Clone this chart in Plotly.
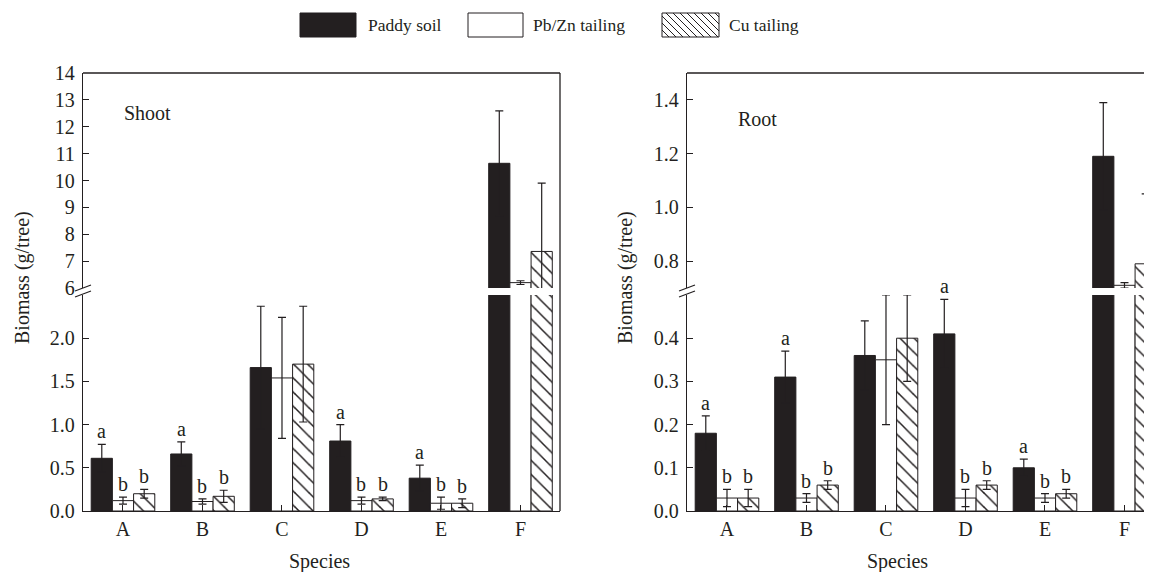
import plotly.graph_objects as go

# ---------------- data ----------------
species = ["A", "B", "C", "D", "E", "F"]
series_names = ["Paddy soil", "Pb/Zn tailing", "Cu tailing"]

shoot_paddy = [0.61, 0.66, 1.66, 0.81, 0.38, 10.64]
shoot_paddy_err = [0.16, 0.14, 0.71, 0.19, 0.15, 1.95]
shoot_pbzn = [0.12, 0.11, 1.54, 0.12, 0.09, 6.20]
shoot_pbzn_err = [0.04, 0.03, 0.70, 0.04, 0.07, 0.07]
shoot_cu = [0.20, 0.17, 1.70, 0.14, 0.09, 7.36]
shoot_cu_err = [0.05, 0.07, 0.67, 0.02, 0.05, 2.54]
shoot_letters = [["a", "b", "b"], ["a", "b", "b"], ["", "", ""],
                 ["a", "b", "b"], ["a", "b", "b"], ["", "", ""]]

root_paddy = [0.18, 0.31, 0.36, 0.41, 0.10, 1.19]
root_paddy_err = [0.04, 0.06, 0.08, 0.08, 0.02, 0.20]
root_pbzn = [0.03, 0.03, 0.35, 0.03, 0.03, 0.71]
root_pbzn_err = [0.02, 0.01, 0.15, 0.02, 0.01, 0.01]
root_cu = [0.03, 0.06, 0.40, 0.06, 0.04, 0.79]
root_cu_err = [0.02, 0.01, 0.10, 0.01, 0.01, 0.26]
root_letters = [["a", "b", "b"], ["a", "b", "b"], ["", "", ""],
                ["a", "b", "b"], ["a", "b", "b"], ["", "", ""]]

shoot_low_ticks = [0.0, 0.5, 1.0, 1.5, 2.0]
shoot_high_ticks = [6, 7, 8, 9, 10, 11, 12, 13, 14]
root_low_ticks = [0.0, 0.1, 0.2, 0.3, 0.4]
root_high_ticks = [0.8, 1.0, 1.2, 1.4]

# ---------------- styling ----------------
OFF = 8                      # default page body margin
W, H = 1152 - OFF, 572 - OFF
INK = "#231f20"
FONT = "Liberation Serif"


def px(x):
    return (x - OFF) / W


def py(y):
    return 1 - (y - OFF) / H


fig = go.Figure()

styles = [
    dict(color=INK, line=dict(color=INK, width=1)),
    dict(color="white", line=dict(color=INK, width=1)),
    dict(color="white", line=dict(color=INK, width=1),
         pattern=dict(shape="\\", size=10, solidity=0.15, fgcolor=INK, bgcolor="white")),
]

panels = [
    (("x", "y"), ("x2", "y2"),
     [(shoot_paddy, shoot_paddy_err), (shoot_pbzn, shoot_pbzn_err), (shoot_cu, shoot_cu_err)],
     shoot_letters),
    (("x3", "y3"), ("x4", "y4"),
     [(root_paddy, root_paddy_err), (root_pbzn, root_pbzn_err), (root_cu, root_cu_err)],
     root_letters),
]

for low, high, series, letters in panels:
    for axes in (low, high):
        for k, (vals, errs) in enumerate(series):
            fig.add_trace(go.Bar(
                x=species, y=vals, name=series_names[k],
                marker=styles[k], showlegend=False,
                error_y=dict(type="data", array=errs, symmetric=True,
                             color=INK, thickness=1.2, width=4),
                xaxis=axes[0], yaxis=axes[1],
            ))
    # significance letters (on the lower part)
    for i in range(len(species)):
        for k, (vals, errs) in enumerate(series):
            t = letters[i][k]
            if t:
                fig.add_annotation(
                    x=i + (k - 1) * 0.8 / 3, y=vals[i] + errs[i],
                    xref=low[0], yref=low[1], text=t, showarrow=False,
                    yanchor="bottom", font=dict(family=FONT, size=20, color=INK))

left_dom = [px(83), px(560)]
right_dom = [px(687), 1.0]
low_dom = [py(511), py(295)]
high_dom = [py(288), py(73)]

xcommon = dict(type="category", categoryorder="array", categoryarray=species,
               showline=True, linecolor=INK, linewidth=1.3, ticks="inside",
               ticklen=6, tickcolor=INK, tickwidth=1.2, showgrid=False, zeroline=False,
               tickfont=dict(family=FONT, size=20, color=INK), fixedrange=True,
               automargin=False)
ycommon = dict(showline=True, linecolor=INK, linewidth=1.3, ticks="inside",
               ticklen=6, tickcolor=INK, tickwidth=1.2, showgrid=False, zeroline=False,
               tickfont=dict(family=FONT, size=20, color=INK), ticklabelstandoff=3,
               fixedrange=True, automargin=False)


def fmt(v, d):
    return f"{v:.{d}f}"


fig.update_layout(
    template="none",
    width=W, height=H, margin=dict(l=0, r=0, t=0, b=0, pad=0, autoexpand=False),
    paper_bgcolor="white", plot_bgcolor="white",
    barmode="group", bargap=0.2, bargroupgap=0,
    showlegend=False,
    font=dict(family=FONT, color=INK),
    xaxis=dict(xcommon, domain=left_dom, anchor="y", range=[-0.503, 5.497]),
    yaxis=dict(ycommon, domain=low_dom, anchor="x", range=[0, 2.5],
               tickvals=shoot_low_ticks, ticktext=[fmt(v, 1) for v in shoot_low_ticks]),
    xaxis2=dict(xcommon, domain=left_dom, anchor="y2", matches="x", visible=False),
    yaxis2=dict(ycommon, domain=high_dom, anchor="x2", range=[6, 14],
                tickvals=shoot_high_ticks, ticktext=[str(v) for v in shoot_high_ticks]),
    xaxis3=dict(xcommon, domain=right_dom, anchor="y3", range=[-0.503, 5.346]),
    yaxis3=dict(ycommon, domain=low_dom, anchor="x3", range=[0, 0.5],
                tickvals=root_low_ticks, ticktext=[fmt(v, 1) for v in root_low_ticks]),
    xaxis4=dict(xcommon, domain=right_dom, anchor="y4", matches="x3", visible=False),
    yaxis4=dict(ycommon, domain=high_dom, anchor="x4", range=[0.7, 1.5],
                tickvals=root_high_ticks, ticktext=[fmt(v, 1) for v in root_high_ticks]),
)

shapes = []
line = dict(color=INK, width=1.3)
# frames
shapes.append(dict(type="line", xref="paper", yref="paper", x0=px(83), x1=px(560),
                   y0=py(73), y1=py(73), line=line))
shapes.append(dict(type="line", xref="paper", yref="paper", x0=px(560), x1=px(560),
                   y0=py(73), y1=py(511), line=line))
shapes.append(dict(type="line", xref="paper", yref="paper", x0=px(687), x1=1.0,
                   y0=py(73), y1=py(73), line=line))
# axis break marks
for ax in (83, 687):
    for dy in (0, 6):
        shapes.append(dict(type="line", xref="paper", yref="paper",
                           x0=px(ax - 8), y0=py(291 + dy), x1=px(ax + 8), y1=py(285 + dy),
                           line=dict(color=INK, width=1.2)))
# legend swatches
box_y0, box_y1 = 13, 37
legend_items = [(300, 356, INK), (468, 523, "white"), (662, 719, "white")]
for x0, x1, c in legend_items:
    shapes.append(dict(type="rect", xref="paper", yref="paper", x0=px(x0), x1=px(x1),
                       y0=py(box_y1), y1=py(box_y0), fillcolor=c, line=dict(color=INK, width=1)))
# hatch lines in the Cu legend box ("\" direction)
hx0, hx1 = 662, 719
hh = box_y1 - box_y0
step = 7
s = hx0 - hh
while s < hx1:
    xa, ya = s, box_y0
    xb, yb = s + hh, box_y1
    if xa < hx0:
        ya = ya + (hx0 - xa)
        xa = hx0
    if xb > hx1:
        yb = yb - (xb - hx1)
        xb = hx1
    if xb > xa:
        shapes.append(dict(type="line", xref="paper", yref="paper",
                           x0=px(xa), y0=py(ya), x1=px(xb), y1=py(yb),
                           line=dict(color=INK, width=1)))
    s += step
fig.update_layout(shapes=shapes)

ann_font = dict(family=FONT, size=20, color=INK)
leg_font = dict(family=FONT, size=17.5, color=INK)
texts = [
    dict(x=px(366), y=py(25), text="Paddy soil", xanchor="left", yanchor="middle", font=leg_font),
    dict(x=px(531), y=py(25), text="Pb/Zn tailing", xanchor="left", yanchor="middle", font=leg_font),
    dict(x=px(727), y=py(25), text="Cu tailing", xanchor="left", yanchor="middle", font=leg_font),
    dict(x=px(122), y=py(113), text="Shoot", xanchor="left", yanchor="middle", font=ann_font),
    dict(x=px(736), y=py(119), text="Root", xanchor="left", yanchor="middle", font=ann_font),
    dict(x=px(319), y=py(561), text="Species", xanchor="center", yanchor="middle", font=ann_font),
    dict(x=px(897), y=py(561), text="Species", xanchor="center", yanchor="middle", font=ann_font),
    dict(x=px(22), y=py(278), text="Biomass (g/tree)", textangle=-90, xanchor="center",
         yanchor="middle", font=ann_font),
    dict(x=px(625), y=py(278), text="Biomass (g/tree)", textangle=-90, xanchor="center",
         yanchor="middle", font=ann_font),
]
for t in texts:
    fig.add_annotation(dict(t, xref="paper", yref="paper", showarrow=False))

fig.write_html("out.html")
